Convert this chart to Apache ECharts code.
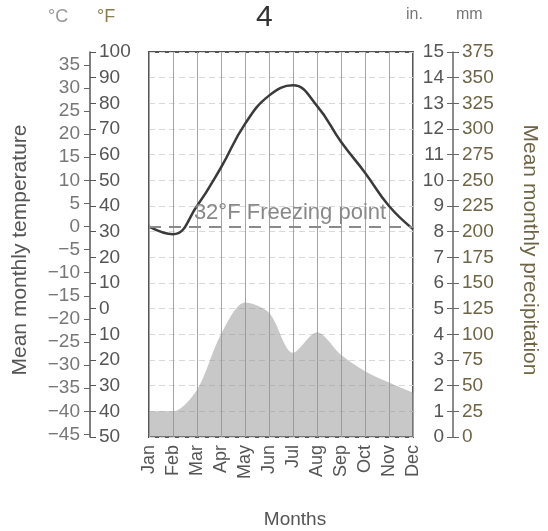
<!DOCTYPE html>
<html>
<head>
<meta charset="utf-8">
<script src="https://cdn.jsdelivr.net/npm/echarts@6/dist/echarts.min.js"></script>
<style>
html,body{margin:0;padding:0;background:#fff;}
#chart{width:548px;height:531px;}
</style>
</head>
<body>
<div id="chart"></div>
<script>
// ---- data ----
const months = ['Jan','Feb','Mar','Apr','May','Jun','Jul','Aug','Sep','Oct','Nov','Dec'];
const tempF = [32, 29, 40, 55, 72, 83, 87, 79, 65, 53, 40, 31];
const precipMm = [25, 25, 46, 100, 131, 121, 82, 102, 80, 64, 53, 43];
const freezingF = 32;
const celsiusTicks = [-45,-40,-35,-30,-25,-20,-15,-10,-5,0,5,10,15,20,25,30,35];
const fRange = [-50, 100];
const inRange = [0, 15];
const mmRange = [0, 375];

const FONT = '"Liberation Sans", Arial, sans-serif';
const f2c = f => (f - 32) * 5 / 9;

const chart = echarts.init(document.getElementById('chart'), null, {renderer: 'canvas'});

const option = {
  backgroundColor: '#ffffff',
  animation: false,
  textStyle: {fontFamily: FONT},
  grid: {left: 149, right: 135, top: 52, bottom: 94, show: true, borderColor: '#555', borderWidth: 2, backgroundColor: 'transparent'},
  xAxis: {
    type: 'category',
    data: months,
    boundaryGap: false,
    axisLine: {show: false},
    axisTick: {show: false},
    axisLabel: {rotate: 90, fontSize: 18, color: '#555', margin: 8, fontFamily: FONT, interval: 0},
    splitLine: {show: true, interval: 0, lineStyle: {color: '#a4a4a4', width: 1}}
  },
  yAxis: [
    { // °F
      type: 'value', position: 'left', offset: 59,
      min: fRange[0], max: fRange[1], interval: 10,
      axisLine: {show: true, lineStyle: {color: '#555', width: 1.5}},
      axisTick: {show: true, inside: true, length: 6, lineStyle: {color: '#555'}},
      axisLabel: {inside: true, margin: 9, fontSize: 19, color: '#555', fontFamily: FONT,
        formatter: v => String(Math.abs(v))},
      splitLine: {show: true, lineStyle: {color: '#d8d8d8', width: 1, type: [6, 4]}}
    },
    { // °C
      type: 'value', position: 'left', offset: 59,
      min: f2c(fRange[0]), max: f2c(fRange[1]),
      axisLine: {show: false},
      axisTick: {show: true, inside: false, length: 6, customValues: celsiusTicks, lineStyle: {color: '#666'}},
      axisLabel: {inside: false, margin: 10, fontSize: 19, color: '#777', fontFamily: FONT, customValues: celsiusTicks,
        formatter: v => (v < 0 ? '\u2212' + Math.abs(v) : String(v))},
      splitLine: {show: false}
    },
    { // in.
      type: 'value', position: 'right', offset: 40,
      min: inRange[0], max: inRange[1], interval: 1,
      axisLine: {show: true, lineStyle: {color: '#666', width: 1.5}},
      axisTick: {show: true, inside: true, length: 6, lineStyle: {color: '#666'}},
      axisLabel: {inside: true, margin: 9, fontSize: 19, color: '#555', fontFamily: FONT},
      splitLine: {show: false}
    },
    { // mm
      type: 'value', position: 'right', offset: 40,
      min: mmRange[0], max: mmRange[1], interval: 25,
      axisLine: {show: false},
      axisTick: {show: true, inside: false, length: 6, lineStyle: {color: '#666'}},
      axisLabel: {inside: false, margin: 9, fontSize: 19, color: '#6e6446', fontFamily: FONT},
      splitLine: {show: false}
    }
  ],
  series: [
    {
      name: 'Precipitation', type: 'line', yAxisIndex: 3, data: precipMm,
      smooth: 0.3, symbol: 'none', z: 2,
      lineStyle: {width: 0, color: 'rgba(150,150,150,0.55)'},
      areaStyle: {color: 'rgba(150,150,150,0.52)', opacity: 1}
    },
    {
      name: 'Temperature', type: 'line', yAxisIndex: 0, data: tempF,
      smooth: 0.45, symbol: 'none', z: 4,
      lineStyle: {width: 2.5, color: '#3a3a3a'},
      markLine: {
        silent: true, symbol: ['none', 'none'],
        data: [{yAxis: freezingF}],
        lineStyle: {type: [12, 8], color: '#8a8a8a', width: 2},
        label: {show: true, position: 'insideMiddleTop', formatter: '32\u00b0F Freezing point',
          color: '#888', fontSize: 22, fontFamily: FONT, distance: 3, offset: [9, 0]}
      }
    }
  ],
  graphic: [
    {type: 'text', left: 48, top: 8, style: {text: '\u00b0C', fill: '#999', font: '18px ' + FONT}},
    {type: 'text', left: 97, top: 8, style: {text: '\u00b0F', fill: '#8b7d52', font: '18px ' + FONT}},
    {type: 'text', left: 256, top: 3, style: {text: '4', fill: '#333', font: '30px ' + FONT}},
    {type: 'text', left: 406, top: 7, style: {text: 'in.', fill: '#777', font: '16px ' + FONT}},
    {type: 'text', left: 456, top: 7, style: {text: 'mm', fill: '#777', font: '16px ' + FONT}},
    {type: 'text', x: 20, y: 250, rotation: Math.PI / 2,
      style: {text: 'Mean monthly temperature', fill: '#555', font: '21px ' + FONT, textAlign: 'center', textVerticalAlign: 'middle'}},
    {type: 'text', x: 530, y: 250, rotation: -Math.PI / 2,
      style: {text: 'Mean monthly precipitation', fill: '#6e6446', font: '21px ' + FONT, textAlign: 'center', textVerticalAlign: 'middle'}},
    {type: 'text', x: 295, y: 520, style: {text: 'Months', fill: '#555', font: '19px ' + FONT, textAlign: 'center', textVerticalAlign: 'middle'}}
  ]
};
chart.setOption(option);
</script>
</body>
</html>
